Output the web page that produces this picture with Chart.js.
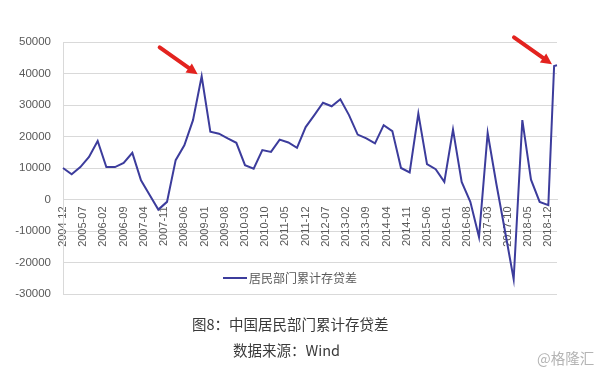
<!DOCTYPE html>
<html>
<head>
<meta charset="utf-8">
<script src="https://cdn.jsdelivr.net/npm/chart.js@4"></script>
<style>
  html,body{margin:0;padding:0;background:#fff;}
  #wrap{position:relative;width:601px;height:374px;overflow:hidden;}
  canvas{position:absolute;left:0;top:0;}
  .cap{position:absolute;font-family:"Noto Sans CJK SC","Noto Sans",sans-serif;color:#3a3a3a;white-space:nowrap;line-height:1;}
</style>
</head>
<body>
<div id="wrap">
  <canvas id="c" width="601" height="374"></canvas>
  <div class="cap" id="cap1" style="left:192px;top:317px;font-size:14.5px;">图8：中国居民部门累计存贷差</div>
  <div class="cap" id="cap2" style="left:233px;top:343px;font-size:14.5px;">数据来源：Wind</div>
  <div class="cap" id="wm" style="left:537px;top:351px;font-size:14.5px;color:#b4b4b4;">@格隆汇</div>
</div>
<script>
// Observation dates (quarterly, plus two months at the end)
const obsDates = [
  '2004-12','2005-03','2005-06','2005-09','2005-12','2006-03','2006-06','2006-09','2006-12',
  '2007-03','2007-06','2007-09','2007-12','2008-03','2008-06','2008-09','2008-12',
  '2009-03','2009-06','2009-09','2009-12','2010-03','2010-06','2010-09','2010-12',
  '2011-03','2011-06','2011-09','2011-12','2012-03','2012-06','2012-09','2012-12',
  '2013-03','2013-06','2013-09','2013-12','2014-03','2014-06','2014-09','2014-12',
  '2015-03','2015-06','2015-09','2015-12','2016-03','2016-06','2016-09','2016-12',
  '2017-03','2017-06','2017-09','2017-12','2018-03','2018-06','2018-09','2018-12',
  '2019-02','2019-03'
];
// 居民部门累计存贷差
const obsValues = [
  10000, 8000, 10300, 13500, 18600, 10300, 10300, 11600, 14800,
  6100, 1400, -3200, -750, 12500, 17200, 25200, 39100,
  21500, 20900, 19400, 18000, 10900, 9800, 15700, 15100,
  19000, 18100, 16400, 23000, 26800, 30700, 29600, 31800,
  26800, 20600, 19400, 17800, 23600, 21700, 10000, 8600,
  27300, 11200, 9600, 5600, 22200, 5600, -750, -11900,
  21100, 5000, -10000, -25300, 25200, 6300, -750, -1800,
  42400, 42600
];
const tickLabels = ['2004-12','2005-07','2006-02','2006-09','2007-04','2007-11','2008-06','2009-01',
  '2009-08','2010-03','2010-10','2011-05','2011-12','2012-07','2013-02','2013-09','2014-04',
  '2014-11','2015-06','2016-01','2016-08','2017-03','2017-10','2018-05','2018-12'];
const arrowTargets = ['2008-12','2019-03'];
const seriesName = '居民部门累计存贷差';
const yMin = -30000, yMax = 50000, yStep = 10000;

// monthly category axis
const months = [];
{
  let y = 2004, m = 12;
  while (y < 2019 || (y === 2019 && m <= 3)) {
    months.push(y + '-' + String(m).padStart(2, '0'));
    m++; if (m > 12) { m = 1; y++; }
  }
}
const monthlyData = months.map(l => { const i = obsDates.indexOf(l); return i >= 0 ? obsValues[i] : null; });

const LINE = '#3c3c9c';
const GRID = '#d9d9d9';
const TXT = '#595959';

const decor = {
  id: 'decor',
  afterDatasetsDraw(chart) {
    const ctx = chart.ctx;
    const meta = chart.getDatasetMeta(0);
    // arrows
    arrowTargets.forEach((lab, k) => {
      const idx = months.indexOf(lab);
      const p = meta.data[idx];
      const tx = p.x - (k === 0 ? 4 : 5), ty = p.y - (k === 0 ? 2 : 1);
      const dx = -38, dy = -27;
      const len = Math.hypot(dx, dy), ux = dx / len, uy = dy / len;
      const headL = 11, headW = 5.5;
      const bx = tx + ux * headL, by = ty + uy * headL;
      ctx.save();
      ctx.strokeStyle = '#e3231f'; ctx.fillStyle = '#e3231f';
      ctx.lineWidth = 4; ctx.lineCap = 'round';
      ctx.beginPath(); ctx.moveTo(tx + dx, ty + dy); ctx.lineTo(bx, by); ctx.stroke();
      ctx.beginPath();
      ctx.moveTo(tx, ty);
      ctx.lineTo(bx - uy * headW, by + ux * headW);
      ctx.lineTo(bx + uy * headW, by - ux * headW);
      ctx.closePath(); ctx.fill();
      ctx.restore();
    });
    // legend inside plot
    const a = chart.chartArea;
    const lx = a.left + 160, ly = 278;
    ctx.save();
    ctx.strokeStyle = LINE; ctx.lineWidth = 2;
    ctx.beginPath(); ctx.moveTo(lx, ly); ctx.lineTo(lx + 24, ly); ctx.stroke();
    ctx.fillStyle = TXT;
    ctx.font = '12px "Noto Sans CJK SC", sans-serif';
    ctx.textBaseline = 'middle';
    ctx.fillText(seriesName, lx + 26, ly);
    ctx.restore();
  }
};

new Chart(document.getElementById('c'), {
  type: 'line',
  data: {
    labels: months,
    datasets: [{
      label: seriesName,
      data: monthlyData,
      borderColor: LINE,
      backgroundColor: LINE,
      borderWidth: 2,
      pointRadius: 0,
      tension: 0,
      spanGaps: true
    }]
  },
  options: {
    responsive: false,
    animation: false,
    devicePixelRatio: 1,
    layout: { padding: { left: 0, right: 44, top: 42, bottom: 80 } },
    plugins: { legend: { display: false }, tooltip: { enabled: false } },
    scales: {
      x: {
        type: 'category',
        position: { y: 0 },
        offset: false,
        grid: { display: false, drawTicks: false },
        border: { display: true, color: GRID, width: 1 },
        ticks: {
          autoSkip: false,
          maxRotation: 90, minRotation: 90,
          padding: 7,
          color: TXT,
          font: { family: '"Liberation Sans", Arial, sans-serif', size: 11 },
          callback(v, i) { const l = months[i]; return tickLabels.includes(l) ? l : null; }
        }
      },
      y: {
        min: yMin, max: yMax,
        afterFit(s) { s.width = 63; },
        grid: { color: GRID, drawTicks: false, lineWidth: 1 },
        border: { display: true, color: GRID },
        ticks: {
          stepSize: yStep,
          padding: 12,
          color: TXT,
          font: { family: '"Liberation Sans", Arial, sans-serif', size: 11.5 },
          callback(v) { return String(v); }
        }
      }
    }
  },
  plugins: [decor]
});
</script>
</body>
</html>
